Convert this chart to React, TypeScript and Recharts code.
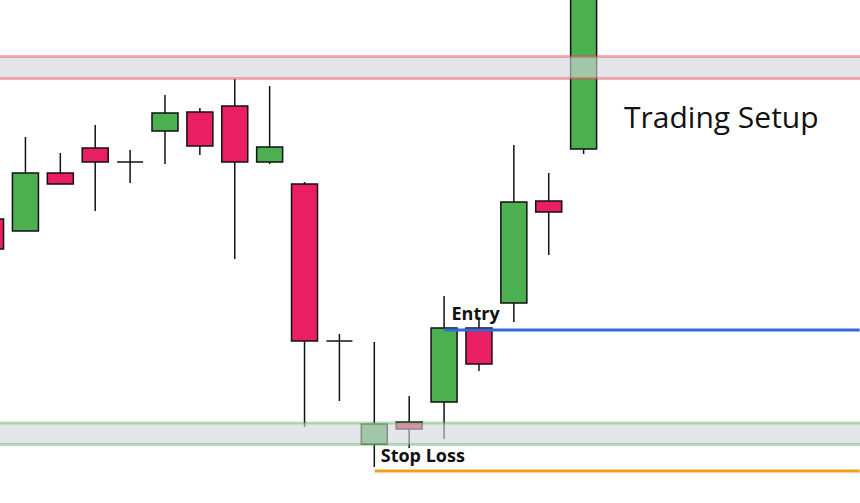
import React from 'react';
import { ComposedChart, Bar, XAxis, YAxis, ReferenceArea, ReferenceLine } from 'recharts';

// candle values (price units, 0 = bottom of the chart)
const candleIndex = [0, 1, 2, 3, 4, 5, 6, 7, 8, 9, 10, 11, 12, 13, 14, 15, 16, 17];
const opens = [284, 272, 330, 355, 341, 372, 391, 397, 341, 319, 162, 59, 81, 101, 175, 200, 302, 354];
const closes = [254, 330, 319, 341, 341, 390, 357, 341, 356, 162, 162, 79, 74, 175, 139, 301, 291, 543];
const highs = [298, 366, 350, 378, 353, 408, 395, 424, 417, 321, 169, 161, 107, 207, 186, 358, 330, 550];
const lows = [241, 272, 319, 292, 320, 339, 348, 244, 339, 76, 102, 36, 55, 64, 132, 181, 248, 349];

// levels
const resistanceZone = [424.5, 446.5];
const supportZone = [58.5, 80];
const entryPrice = 173;
const stopPrice = 32;
const entryStart = 13;
const stopStart = 11;

const GREEN = '#4caf50';
const RED = '#e91e63';

const data = candleIndex.map((i) => ({
  i,
  open: opens[i],
  close: closes[i],
  high: highs[i],
  low: lows[i],
}));

const Candle = (props: any) => {
  const { x, y, width, height, payload } = props;
  if (x == null || y == null) return null;
  const { open, close, high, low } = payload;
  const top = Math.min(y, y + height);
  const h = Math.abs(height);
  const range = high - low || 1;
  const py = (v: number) => top + ((high - v) / range) * h;
  const cx = x + width / 2;
  const bodyTop = py(Math.max(open, close));
  const bodyBot = py(Math.min(open, close));
  return (
    <g>
      <line x1={cx} x2={cx} y1={top} y2={top + h} stroke="#111" strokeWidth={1.5} />
      {open === close ? (
        <line x1={x} x2={x + width} y1={bodyTop} y2={bodyTop} stroke="#111" strokeWidth={1.5} />
      ) : (
        <rect
          x={x}
          y={bodyTop}
          width={width}
          height={bodyBot - bodyTop}
          fill={close > open ? GREEN : RED}
          stroke="#111"
          strokeWidth={1.5}
        />
      )}
    </g>
  );
};

const lineLabel = (text: string, dx: number, dy: number) => (p: any) => {
  const vb = p.viewBox || {};
  return (
    <text
      x={vb.x + dx}
      y={vb.y + dy}
      fontFamily="'Open Sans', sans-serif"
      fontWeight={700}
      fontSize={18}
      fill="#111"
    >
      {text}
    </text>
  );
};

export default function App() {
  return (
    <div style={{ position: 'fixed', top: 0, left: 0, width: 860, height: 503, background: '#fff' }}>
      <ComposedChart width={860} height={503} data={data} margin={{ top: 0, right: 0, bottom: 0, left: 0 }}>
        <XAxis dataKey="i" type="number" domain={[0.258, 24.91]} allowDataOverflow hide />
        <YAxis type="number" domain={[0, 503]} allowDataOverflow hide />
        <Bar
          dataKey={(d: any) => [d.low, d.high]}
          barSize={26}
          shape={<Candle />}
          isAnimationActive={false}
        />
        <ReferenceArea
          y1={resistanceZone[0]}
          y2={resistanceZone[1]}
          fill="#d3d7dd"
          fillOpacity={0.62}
          stroke="none"
          ifOverflow="visible"
          zIndex={900}
        />
        <ReferenceArea
          y1={supportZone[0]}
          y2={supportZone[1]}
          fill="#d3d7dd"
          fillOpacity={0.62}
          stroke="none"
          ifOverflow="visible"
          zIndex={900}
        />
        <ReferenceLine y={resistanceZone[0]} stroke="#e53945" strokeOpacity={0.4} strokeWidth={3} zIndex={910} />
        <ReferenceLine y={resistanceZone[1]} stroke="#e53945" strokeOpacity={0.4} strokeWidth={3} zIndex={910} />
        <ReferenceLine y={supportZone[0]} stroke="#4caf50" strokeOpacity={0.4} strokeWidth={3} zIndex={910} />
        <ReferenceLine y={supportZone[1]} stroke="#4caf50" strokeOpacity={0.4} strokeWidth={3} zIndex={910} />
        <ReferenceLine
          segment={[{ x: entryStart, y: entryPrice }, { x: 24.9, y: entryPrice }]}
          stroke="#2f6bd8"
          strokeWidth={3}
          ifOverflow="visible"
          zIndex={920}
          label={lineLabel('Entry', 7, -10)}
        />
        <ReferenceLine
          segment={[{ x: stopStart, y: stopPrice }, { x: 24.9, y: stopPrice }]}
          stroke="#f0a01e"
          strokeWidth={3}
          ifOverflow="visible"
          zIndex={920}
          label={lineLabel('Stop Loss', 6, -9)}
        />
      </ComposedChart>
      <div
        style={{
          position: 'absolute',
          left: 624,
          top: 96,
          fontFamily: "'Open Sans', sans-serif",
          fontSize: 30,
          lineHeight: '42px',
          color: '#111',
          whiteSpace: 'nowrap',
        }}
      >
        Trading Setup
      </div>
    </div>
  );
}
